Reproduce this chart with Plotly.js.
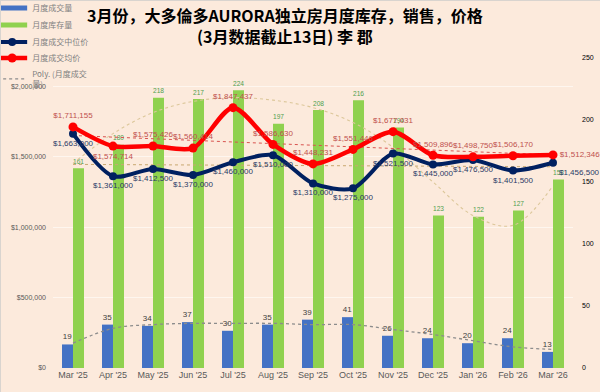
<!DOCTYPE html>
<html>
<head>
<meta charset="utf-8">
<script src="https://cdn.plot.ly/plotly-3.0.1.min.js"></script>
<style>
html,body{margin:0;padding:0;background:#FCEADC;}
#chart{width:600px;height:392px;box-sizing:border-box;border:1px solid #D9D4CF;}
</style>
</head>
<body>
<div id="chart"></div>
<script>
// ---- data ----
var months = ["Mar '25","Apr '25","May '25","Jun '25","Jul '25","Aug '25","Sep '25","Oct '25","Nov '25","Dec '25","Jan '26","Feb '26","Mar '26"];
var sales = [19,35,34,37,30,35,39,41,26,24,20,24,13];
var inventory = [161,180,218,217,224,197,208,216,194,123,122,127,152];
var medianPrice = [1663000,1361000,1412500,1370000,1460000,1510000,1310000,1275000,1521500,1445000,1476500,1401500,1456500];
var averagePrice = [1711155,1574714,1575426,1560414,1847437,1586630,1448231,1551446,1677031,1509896,1498750,1506170,1512346];
var salesPolyTrend = [20,32,35,36,36,36,35,35,31,27,22,17,15];
var inventoryPolyTrend = [165,189,206,215,218,216,210,198,178,150,123,115,147];
var trendMonths = ["Mar '25","Mar '26"];
var averageTrend = [1650000,1512000];
var medianTrend = [1445000,1428000];
var priceTicks = [0,500000,1000000,1500000,2000000];
var priceTickText = ["$0","$500,000","$1,000,000","$1,500,000","$2,000,000"];
var legendNames = ["月度成交量","月度库存量","月度成交中位价","月度成交均价","Poly. (月度成交<br>量)"];

function money(v){return "$" + v.toLocaleString("en-US");}

var numFont = "Liberation Sans, Arial, sans-serif";
var cjk = "Noto Sans CJK SC, sans-serif";
var blue = "#4472C4", green = "#8FD14F", navy = "#002060", red = "#FF0000";

var medianPos = months.map(function(m,i){return i===12 ? "bottom right" : "bottom center";});
var averagePos = months.map(function(m,i){return i===1 ? "bottom center" : (i===12 ? "middle right" : "top center");});

var traces = [
  {type:"bar", name:legendNames[0], showlegend:false, x:months, y:sales, xaxis:"x", yaxis:"y",
   marker:{color:blue}, text:sales.map(String), textposition:"outside",
   textfont:{family:numFont,size:8,color:"#404040"}, cliponaxis:false, hoverinfo:"skip"},
  {type:"bar", name:legendNames[1], showlegend:false, x:months, y:inventory, xaxis:"x", yaxis:"y",
   marker:{color:green}, text:inventory.map(String), textposition:"outside",
   textfont:{family:numFont,size:9.5,color:"#4FA04F"}, cliponaxis:false, hoverinfo:"skip"},
  {type:"scatter", mode:"lines", name:legendNames[4], legend:"legend5", x:months, y:salesPolyTrend, xaxis:"x", yaxis:"y",
   line:{color:"#8C8C8C",width:1.3,dash:"dot",shape:"spline"}, hoverinfo:"skip"},
  {type:"scatter", mode:"lines", name:"inv trend", showlegend:false, x:months, y:inventoryPolyTrend, xaxis:"x", yaxis:"y",
   line:{color:"#DCC79A",width:1.1,dash:"dot",shape:"spline"}, hoverinfo:"skip"},
  {type:"scatter", mode:"lines", name:"avg trend", showlegend:false, x:trendMonths, y:averageTrend, xaxis:"x", yaxis:"y2",
   line:{color:"#D9534F",width:1,dash:"dot"}, hoverinfo:"skip"},
  {type:"scatter", mode:"lines", name:"median trend", showlegend:false, x:trendMonths, y:medianTrend, xaxis:"x", yaxis:"y2",
   line:{color:"#C9A870",width:1,dash:"dot"}, hoverinfo:"skip"},
  {type:"scatter", mode:"lines+markers+text", name:legendNames[2], legend:"legend3", x:months, y:medianPrice, xaxis:"x", yaxis:"y2",
   line:{color:navy,width:4,shape:"spline",smoothing:0.8}, marker:{color:navy,size:8},
   text:medianPrice.map(money), textposition:medianPos,
   textfont:{family:numFont,size:8,color:"#2B3A67"}, cliponaxis:false, hoverinfo:"skip"},
  {type:"scatter", mode:"lines+markers+text", name:legendNames[3], legend:"legend4", x:months, y:averagePrice, xaxis:"x", yaxis:"y2",
   line:{color:red,width:4.5,shape:"spline",smoothing:0.8}, marker:{color:red,size:9},
   text:averagePrice.map(money), textposition:averagePos,
   textfont:{family:numFont,size:8,color:"#C0504D"}, cliponaxis:false, hoverinfo:"skip"},
  // legend keys for the bar series (thick line swatches, as in the reference)
  {type:"scatter", mode:"lines", name:legendNames[0], legend:"legend", x:[months[0]], y:[null], xaxis:"x", yaxis:"y",
   line:{color:blue,width:5}, hoverinfo:"skip"},
  {type:"scatter", mode:"lines", name:legendNames[1], legend:"legend2", x:[months[0]], y:[null], xaxis:"x", yaxis:"y",
   line:{color:green,width:5}, hoverinfo:"skip"}
];

function leg(yc){
  return {xref:"paper", yref:"container", x:-0.117, y:1 - yc/392, xanchor:"left", yanchor:"middle",
          font:{family:cjk,size:8,color:"#7F7F7F"}, bgcolor:"rgba(0,0,0,0)", itemwidth:30, tracegroupgap:0};
}

var layout = {
  width:600, height:392,
  paper_bgcolor:"#FCEADC", plot_bgcolor:"#FCEADC",
  margin:{l:52, r:28, t:57, b:25, autoexpand:false},
  title:{text:"<b>3月份，大多倫多AURORA独立房月度库存，销售，价格<br>(3月数据截止13日) 李 郡</b>",
         font:{family:cjk,size:16,color:"#000000"}, x:0.473, xref:"container", xanchor:"center",
         y:1 - 21/392, yref:"container", yanchor:"middle"},
  barmode:"group", bargap:0.45, bargroupgap:0,
  showlegend:true,
  legend:leg(7), legend2:leg(24), legend3:leg(41), legend4:leg(57), legend5:leg(78),
  xaxis:{type:"category", categoryarray:months, range:[-0.5,12.5], showgrid:false, zeroline:false, showline:false, ticks:"",
         tickfont:{family:numFont,size:9,color:"#595959"}, fixedrange:true},
  yaxis:{side:"right", range:[0,250], dtick:50, showgrid:false, zeroline:false, showline:false, ticks:"",
         tickfont:{family:numFont,size:7,color:"#000000"}, ticklabelstandoff:8, fixedrange:true},
  yaxis2:{overlaying:"y", side:"left", range:[0,2200000], tickvals:priceTicks, ticktext:priceTickText,
          showgrid:true, gridcolor:"rgba(255,255,255,0.55)", gridwidth:1, zeroline:false, showline:false, ticks:"",
          tickfont:{family:numFont,size:7,color:"#595959"}, ticklabelstandoff:6, fixedrange:true}
};

Plotly.newPlot("chart", traces, layout, {displayModeBar:false, staticPlot:true});
</script>
</body>
</html>
